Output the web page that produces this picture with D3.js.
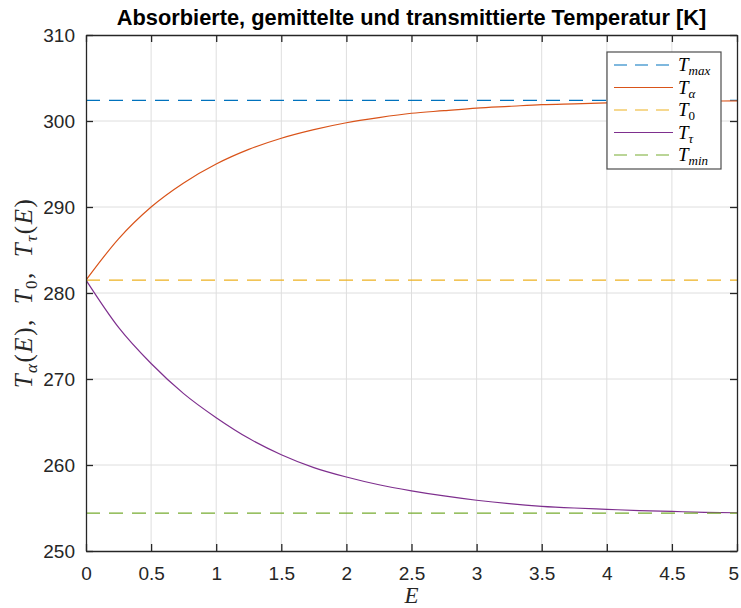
<!DOCTYPE html>
<html>
<head>
<meta charset="utf-8">
<script src="https://cdn.jsdelivr.net/npm/d3@7"></script>
<style>
  body { margin: 0; background: #fff; }
  svg { display: block; }
</style>
</head>
<body>
<div id="chart"></div>
<script>
// data
const energy = [0, 0.25, 0.5, 0.75, 1, 1.25, 1.5, 1.75, 2, 2.25, 2.5, 2.75, 3, 3.25, 3.5, 3.75, 4, 4.25, 4.5, 4.75, 5];
const tAlpha = [281.5, 286.3, 290.0, 292.8, 295.0, 296.7, 298.0, 299.0, 299.8, 300.4, 300.9, 301.2, 301.5, 301.7, 301.9, 302.0, 302.1, 302.2, 302.25, 302.3, 302.35];
const tTau = [281.5, 276.0, 271.8, 268.3, 265.5, 263.1, 261.2, 259.7, 258.6, 257.7, 257.0, 256.4, 255.9, 255.5, 255.2, 255.0, 254.85, 254.7, 254.6, 254.5, 254.45];
const tMax = 302.4;
const t0 = 281.5;
const tMin = 254.4;
const xTicks = [0, 0.5, 1, 1.5, 2, 2.5, 3, 3.5, 4, 4.5, 5];
const yTicks = [250, 260, 270, 280, 290, 300, 310];

const width = 741, height = 608;
const margin = { top: 35, right: 4, bottom: 57, left: 86 };
const w = width - margin.left - margin.right;
const h = height - margin.top - margin.bottom;
const axisColor = "#262626";

const svg = d3.select("#chart").append("svg")
  .attr("width", width).attr("height", height)
  .style("font-family", "'Liberation Sans', Arial, Helvetica, sans-serif");

const g = svg.append("g").attr("transform", "translate(" + margin.left + "," + margin.top + ")");

const x = d3.scaleLinear().domain([0, 5]).range([0, w]);
const y = d3.scaleLinear().domain([250, 310]).range([h, 0]);

// grid
g.append("g").selectAll("line").data(xTicks.slice(1, -1)).enter().append("line")
  .attr("x1", d => x(d)).attr("x2", d => x(d)).attr("y1", 0).attr("y2", h)
  .attr("stroke", "#dedede").attr("stroke-width", 1);
g.append("g").selectAll("line").data(yTicks.slice(1, -1)).enter().append("line")
  .attr("y1", d => y(d)).attr("y2", d => y(d)).attr("x1", 0).attr("x2", w)
  .attr("stroke", "#dedede").attr("stroke-width", 1);

// series
const series = [
  { name: "max", color: "#0072BD", dash: "14,9", vals: energy.map(() => tMax) },
  { name: "\u03b1", color: "#D95319", dash: null, vals: tAlpha },
  { name: "0", color: "#EDB120", dash: "14,9", vals: energy.map(() => t0) },
  { name: "\u03c4", color: "#7E2F8E", dash: null, vals: tTau },
  { name: "min", color: "#77AC30", dash: "14,9", vals: energy.map(() => tMin) }
];

const line = d3.line()
  .x(d => x(d[0]))
  .y(d => y(d[1]))
  .curve(d3.curveMonotoneX);

g.append("defs").append("clipPath").attr("id", "clip")
  .append("rect").attr("width", w).attr("height", h);

const plot = g.append("g").attr("clip-path", "url(#clip)");
series.forEach(s => {
  plot.append("path")
    .datum(energy.map((e, i) => [e, s.vals[i]]))
    .attr("d", line)
    .attr("fill", "none")
    .attr("stroke", s.color)
    .attr("stroke-width", 1.2)
    .attr("stroke-dasharray", s.dash);
});

// axes (ticks inward on all sides)
const fmt = d => String(d);
const axBottom = g.append("g").attr("transform", "translate(0," + h + ")")
  .call(d3.axisBottom(x).tickValues(xTicks).tickFormat(fmt).tickSizeInner(-7).tickSizeOuter(0).tickPadding(16));
const axLeft = g.append("g")
  .call(d3.axisLeft(y).tickValues(yTicks).tickFormat(fmt).tickSizeInner(-7).tickSizeOuter(0).tickPadding(11));
const axTop = g.append("g")
  .call(d3.axisTop(x).tickValues(xTicks).tickFormat("").tickSizeInner(-7).tickSizeOuter(0));
const axRight = g.append("g").attr("transform", "translate(" + w + ",0)")
  .call(d3.axisRight(y).tickValues(yTicks).tickFormat("").tickSizeInner(-7).tickSizeOuter(0));

[axBottom, axLeft, axTop, axRight].forEach(a => {
  a.select(".domain").attr("stroke", axisColor).attr("stroke-width", 1.3);
  a.selectAll(".tick line").attr("stroke", axisColor).attr("stroke-width", 1.3);
  a.selectAll("text").attr("fill", axisColor).style("font-size", "19px")
    .style("font-family", "'Liberation Sans', Arial, sans-serif");
});

// last x label sits on the window edge, keep it fully visible
axBottom.selectAll(".tick text").filter(d => d === 5).attr("text-anchor", "end").attr("dx", "0.08em");

// title
svg.append("text")
  .attr("x", margin.left + w / 2).attr("y", 25)
  .attr("text-anchor", "middle")
  .style("font-size", "21.8px").style("font-weight", "bold")
  .attr("fill", "#000")
  .text("Absorbierte, gemittelte und transmittierte Temperatur [K]");

// axis labels (math style)
const mathFont = "'Liberation Serif', 'DejaVu Serif', serif";
svg.append("text")
  .attr("x", margin.left + w / 2).attr("y", 603)
  .attr("text-anchor", "middle")
  .style("font-family", mathFont).style("font-style", "italic").style("font-size", "23px")
  .attr("fill", axisColor)
  .text("E");

const yl = svg.append("text")
  .attr("transform", "translate(32," + (margin.top + h / 2) + ") rotate(-90)")
  .attr("text-anchor", "middle")
  .style("font-family", mathFont).style("font-size", "25px")
  .style("letter-spacing", "1.5px")
  .attr("fill", axisColor);
const parts = [
  ["T", "italic", 0], ["\u03b1", "italic", 1], ["(", "normal", -1], ["E", "italic", 0], ["),\u2002", "normal", 0],
  ["T", "italic", 0], ["0", "normal", 1], [",\u2002", "normal", -1],
  ["T", "italic", 0], ["\u03c4", "italic", 1], ["(", "normal", -1], ["E", "italic", 0], [")", "normal", 0]
];
parts.forEach(p => {
  const t = yl.append("tspan").style("font-style", p[1]).text(p[0]);
  if (p[2] === 1) t.attr("dy", 5).style("font-size", "17px");
  if (p[2] === -1) t.attr("dy", -5);
});

// legend
const lg = g.append("g").attr("transform", "translate(" + (607 - margin.left) + "," + (52 - margin.top) + ")");
lg.append("rect").attr("width", 114).attr("height", 117)
  .attr("fill", "#fff").attr("stroke", "#4d4d4d").attr("stroke-width", 1.2);
series.forEach((s, i) => {
  const row = lg.append("g").attr("transform", "translate(0," + (13 + i * 22.5) + ")");
  row.append("line").attr("x1", 7).attr("x2", 66).attr("y1", 0).attr("y2", 0)
    .attr("stroke", s.color).attr("stroke-width", 1.2).attr("stroke-dasharray", s.dash ? "13,8" : null);
  const t = row.append("text").attr("x", 71).attr("y", 6)
    .style("font-family", mathFont).style("font-size", "19px").attr("fill", "#000");
  t.append("tspan").style("font-style", "italic").text("T");
  t.append("tspan").attr("dy", 4).style("font-size", "13px")
    .style("font-style", s.name === "0" ? "normal" : "italic").text(s.name);
});
</script>
</body>
</html>
